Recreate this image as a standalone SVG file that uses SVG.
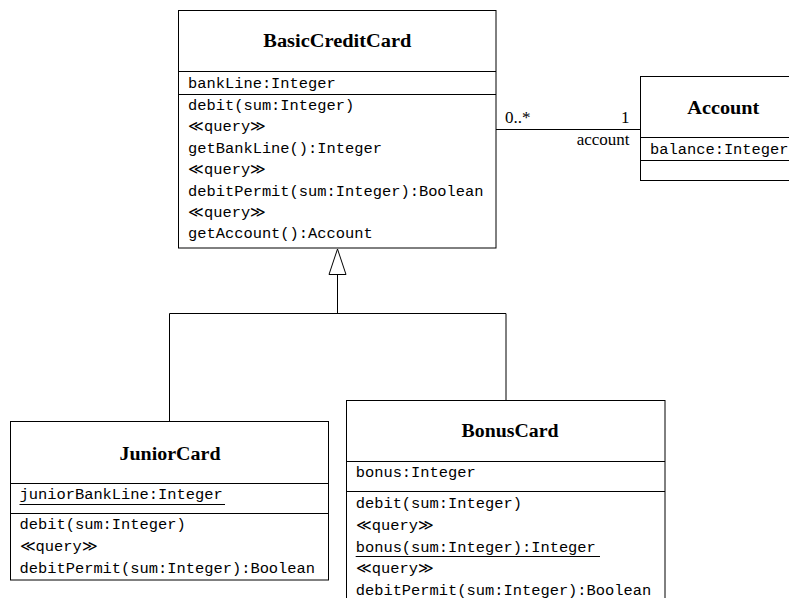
<svg xmlns="http://www.w3.org/2000/svg" width="789" height="598" viewBox="0 0 789 598">
<style>
.box{fill:#fff;stroke:#000;stroke-width:1}
.div{stroke:#000;stroke-width:1}
.title{font-family:"Liberation Serif","DejaVu Serif",serif;font-weight:bold;font-size:18px;text-anchor:middle;fill:#000}
.mono{font-family:"Liberation Mono","DejaVu Sans Mono",monospace;font-size:15.4px;fill:#000}
.lbl{font-family:"Liberation Serif","DejaVu Serif",serif;font-size:17px;fill:#000}
.con{fill:none;stroke:#000;stroke-width:1}
.ul{stroke:#000;stroke-width:1}
</style>
<rect width="789" height="598" fill="#fff"/>
<g id="connectors">
  <line class="con" x1="496" y1="129.5" x2="640.5" y2="129.5"/>
  <polyline class="con" points="169.5,421.5 169.5,313.5 506,313.5 506,400.5"/>
  <line class="con" x1="337.5" y1="274.5" x2="337.5" y2="313.5"/>
  <polygon class="con" points="337.5,249 329,274.5 346,274.5" fill="#fff"/>
  <text class="lbl" x="505" y="123">0..*</text>
  <text class="lbl" x="629.5" y="123" text-anchor="end">1</text>
  <text class="lbl" x="629.5" y="145" text-anchor="end">account</text>
</g>
<g id="BasicCreditCard">
  <rect class="box" x="178.5" y="10.5" width="317.5" height="237.5"/>
  <line class="div" x1="178.5" y1="71.5" x2="496" y2="71.5"/>
  <line class="div" x1="178.5" y1="94.5" x2="496" y2="94.5"/>
  <text class="title" x="337.3" y="46.7" textLength="148" lengthAdjust="spacingAndGlyphs">BasicCreditCard</text>
  <text class="mono" x="188" y="87.5">bankLine:Integer</text>
  <text class="mono" x="188" y="110">debit(sum:Integer)</text>
  <text class="mono" x="188" y="131.4">≪query≫</text>
  <text class="mono" x="188" y="152.8">getBankLine():Integer</text>
  <text class="mono" x="188" y="174.2">≪query≫</text>
  <text class="mono" x="188" y="195.6">debitPermit(sum:Integer):Boolean</text>
  <text class="mono" x="188" y="217">≪query≫</text>
  <text class="mono" x="188" y="238.4">getAccount():Account</text>
</g>
<g id="Account">
  <rect class="box" x="640.5" y="76.5" width="166" height="104"/>
  <line class="div" x1="640.5" y1="137.5" x2="806.5" y2="137.5"/>
  <line class="div" x1="640.5" y1="160.5" x2="806.5" y2="160.5"/>
  <text class="title" x="723.3" y="114" textLength="72" lengthAdjust="spacingAndGlyphs">Account</text>
  <text class="mono" x="650" y="153.5">balance:Integer</text>
</g>
<g id="JuniorCard">
  <rect class="box" x="10.5" y="421.5" width="318" height="158.5"/>
  <line class="div" x1="10.5" y1="483.5" x2="328.5" y2="483.5"/>
  <line class="div" x1="10.5" y1="513.5" x2="328.5" y2="513.5"/>
  <text class="title" x="170" y="460" textLength="101" lengthAdjust="spacingAndGlyphs">JuniorCard</text>
  <text class="mono" x="19.5" y="499">juniorBankLine:Integer</text>
  <line class="ul" x1="19.5" y1="504.5" x2="225" y2="504.5"/>
  <text class="mono" x="19.5" y="529.3">debit(sum:Integer)</text>
  <text class="mono" x="19.5" y="550.9">≪query≫</text>
  <text class="mono" x="19.5" y="572.5">debitPermit(sum:Integer):Boolean</text>
</g>
<g id="BonusCard">
  <rect class="box" x="346.5" y="400.5" width="318.5" height="220"/>
  <line class="div" x1="346.5" y1="461.5" x2="665" y2="461.5"/>
  <line class="div" x1="346.5" y1="491.5" x2="665" y2="491.5"/>
  <text class="title" x="510" y="436.7" textLength="97" lengthAdjust="spacingAndGlyphs">BonusCard</text>
  <text class="mono" x="355.7" y="477">bonus:Integer</text>
  <text class="mono" x="355.7" y="508.3">debit(sum:Integer)</text>
  <text class="mono" x="355.7" y="529.9">≪query≫</text>
  <text class="mono" x="355.7" y="551.5">bonus(sum:Integer):Integer</text>
  <line class="ul" x1="355.7" y1="556.5" x2="600" y2="556.5"/>
  <text class="mono" x="355.7" y="573.1">≪query≫</text>
  <text class="mono" x="355.7" y="594.7">debitPermit(sum:Integer):Boolean</text>
</g>
</svg>
